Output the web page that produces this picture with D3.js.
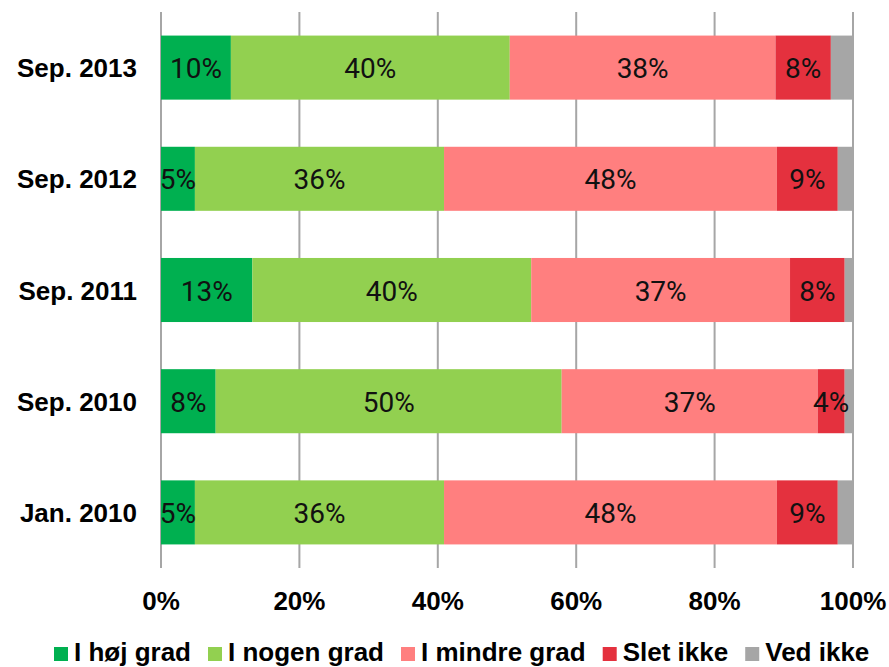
<!DOCTYPE html>
<html>
<head>
<meta charset="utf-8">
<script src="https://cdn.jsdelivr.net/npm/d3@7"></script>
<style>
  html, body { margin: 0; padding: 0; background: #fff; }
  svg { display: block; }
</style>
</head>
<body>
<svg id="chart" width="889" height="667"></svg>
<script>
const categories = ["Sep. 2013", "Sep. 2012", "Sep. 2011", "Sep. 2010", "Jan. 2010"];
const seriesNames = ["I høj grad", "I nogen grad", "I mindre grad", "Slet ikke", "Ved ikke"];
const hoejGrad   = [10.1, 4.9, 13.2, 7.9, 4.9];
const nogenGrad  = [40.3, 36.0, 40.3, 50.0, 36.0];
const mindreGrad = [38.4, 48.1, 37.4, 37.0, 48.1];
const sletIkke   = [8.0, 8.8, 7.9, 3.9, 8.8];
const vedIkke    = [3.2, 2.2, 1.2, 1.2, 2.2];
const tickValues = [0, 20, 40, 60, 80, 100];
const tickLabels = ["0%", "20%", "40%", "60%", "80%", "100%"];
const colors = ["#00b050", "#92d050", "#ff7f7f", "#e4313e", "#a6a6a6"];
const showLabel = [true, true, true, true, false];

const seriesValues = [hoejGrad, nogenGrad, mindreGrad, sletIkke, vedIkke];
const rows = categories.map((c, i) => {
  const r = { cat: c };
  seriesNames.forEach((s, j) => r[s] = seriesValues[j][i]);
  return r;
});
const stacked = d3.stack().keys(seriesNames)(rows);

const W = 889, H = 667;
const margin = { top: 12, right: 36, bottom: 99, left: 161 };
const svg = d3.select("#chart");
const x = d3.scaleLinear().domain([0, 100]).range([margin.left, W - margin.right]);
const y = d3.scaleBand().domain(categories).range([margin.top, H - margin.bottom]).paddingInner(0.424).paddingOuter(0.212);

const boldFont = "'Liberation Sans', Arial, sans-serif";
const FS = 26;

// gridlines
svg.append("g").selectAll("line").data(tickValues).join("line")
  .attr("x1", d => x(d)).attr("x2", d => x(d))
  .attr("y1", margin.top).attr("y2", H - margin.bottom)
  .attr("stroke", "#a6a6a6").attr("stroke-width", 2);

// bars
const layer = svg.append("g").selectAll("g").data(stacked).join("g")
  .attr("fill", (d, i) => colors[i]);
layer.selectAll("rect").data(d => d).join("rect")
  .attr("x", d => x(d[0]))
  .attr("width", d => x(d[1]) - x(d[0]))
  .attr("y", d => y(d.data.cat))
  .attr("height", y.bandwidth());

// data labels
stacked.forEach((s, i) => {
  if (!showLabel[i]) return;
  svg.append("g").selectAll("text").data(s).join("text")
    .attr("x", d => (x(d[0]) + x(d[1])) / 2)
    .attr("y", d => y(d.data.cat) + y.bandwidth() / 2 + 1)
    .attr("text-anchor", "middle")
    .attr("dominant-baseline", "central")
    .attr("font-family", "Roboto, sans-serif")
    .attr("font-size", 28)
    .attr("fill", "#111")
    .text(d => Math.round(d[1] - d[0]) + "%");
});

// category labels
svg.append("g").selectAll("text").data(categories).join("text")
  .attr("x", margin.left - 24)
  .attr("y", d => y(d) + y.bandwidth() / 2 + 9.5)
  .attr("text-anchor", "end")
  .attr("font-family", boldFont)
  .attr("font-weight", "bold")
  .attr("font-size", FS)
  .attr("fill", "#000")
  .text(d => d);

// x tick labels
svg.append("g").selectAll("text").data(tickValues).join("text")
  .attr("x", d => x(d))
  .attr("y", 610)
  .attr("text-anchor", "middle")
  .attr("font-family", boldFont)
  .attr("font-weight", "bold")
  .attr("font-size", FS)
  .attr("fill", "#000")
  .text((d, i) => tickLabels[i]);

// legend
const legend = svg.append("g").attr("transform", "translate(54,661)");
let cx = 0;
seriesNames.forEach((name, i) => {
  const g = legend.append("g").attr("transform", `translate(${cx},0)`);
  g.append("rect").attr("x", 0).attr("y", -14).attr("width", 14).attr("height", 14).attr("fill", colors[i]);
  const t = g.append("text")
    .attr("x", 20)
    .attr("y", 0)
    .attr("font-family", boldFont)
    .attr("font-weight", "bold")
    .attr("font-size", FS)
    .attr("fill", "#000")
    .text(name);
  const w = t.node().getComputedTextLength();
  cx += 20 + w + 17;
});
</script>
</body>
</html>
